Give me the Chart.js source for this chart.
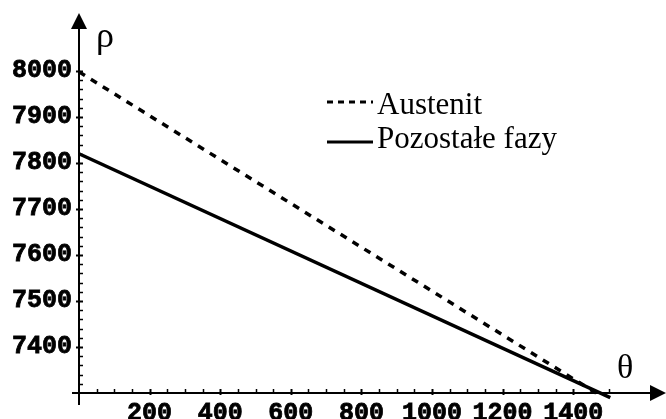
<!DOCTYPE html>
<html>
<head>
<meta charset="utf-8">
<script src="https://cdn.jsdelivr.net/npm/chart.js@4/dist/chart.umd.min.js"></script>
<style>
  html, body { margin: 0; padding: 0; background: #fff; }
  #wrap { width: 666px; height: 419px; position: relative; }
</style>
</head>
<body>
<div id="wrap"><canvas id="chart"></canvas></div>
<script>
// density (kg/m3) against temperature, end points of each straight line
const austenitTemp = [0, 1465];
const austenitRho = [7998, 7300];
const otherTemp = [0, 1505];
const otherRho = [7820, 7290];

const seriesNames = ['Austenit', 'Pozostałe fazy'];
const xTickLabels = [200, 400, 600, 800, 1000, 1200, 1400];
const yTickLabels = [7400, 7500, 7600, 7700, 7800, 7900, 8000];

const X_MIN = 0, X_MAX = 1660, X_LAST_TICK = 1500;
const Y_MIN = 7300, Y_MAX = 8126, Y_LAST_TICK = 8000;

const tickFont = { family: "'Liberation Mono', monospace", size: 25, weight: 'bold' };

function points(xs, ys) {
  return xs.map((x, i) => ({ x: x, y: ys[i] }));
}

// hand drawn axes with arrow heads, minor/major tick marks
const arrowAxes = {
  id: 'arrowAxes',
  beforeDatasetsDraw(chart) {
    const { ctx, scales } = chart;
    const xs = scales.x, ys = scales.y;
    const x0 = xs.getPixelForValue(0);
    const y0 = ys.getPixelForValue(Y_MIN);
    ctx.save();
    ctx.strokeStyle = '#000';
    ctx.fillStyle = '#000';
    ctx.lineWidth = 2;

    // axis lines
    ctx.beginPath();
    ctx.moveTo(x0 - 7, y0);
    ctx.lineTo(655, y0);
    ctx.moveTo(x0, y0 + 12);
    ctx.lineTo(x0, 26);
    ctx.stroke();

    // arrow heads
    ctx.beginPath();
    ctx.moveTo(x0, 13);
    ctx.lineTo(x0 - 8, 29);
    ctx.lineTo(x0 + 8, 29);
    ctx.closePath();
    ctx.fill();
    ctx.beginPath();
    ctx.moveTo(666, y0);
    ctx.lineTo(650, y0 - 8);
    ctx.lineTo(650, y0 + 8);
    ctx.closePath();
    ctx.fill();

    // tick marks
    ys.ticks.forEach(t => {
      const v = Math.round(t.value);
      if (v <= Y_MIN || v > Y_LAST_TICK) return;
      const py = Math.round(ys.getPixelForValue(v)) + 0.5;
      const major = v % 100 === 0;
      ctx.lineWidth = major ? 2 : 1.5;
      ctx.beginPath();
      ctx.moveTo(x0 - (major ? 3 : 0), py);
      ctx.lineTo(x0 + 4, py);
      ctx.stroke();
    });
    xs.ticks.forEach(t => {
      const v = Math.round(t.value);
      if (v <= X_MIN || v > X_LAST_TICK) return;
      const px = Math.round(xs.getPixelForValue(v)) + 0.5;
      const major = v % 200 === 0;
      ctx.lineWidth = major ? 2 : 1.5;
      ctx.beginPath();
      ctx.moveTo(px, y0 - 4);
      ctx.lineTo(px, y0 + (major ? 2 : 0));
      ctx.stroke();
    });
    ctx.restore();
  },
  afterDraw(chart) {
    const { ctx } = chart;
    ctx.save();
    ctx.fillStyle = '#000';
    ctx.textAlign = 'left';
    ctx.textBaseline = 'alphabetic';

    // axis symbols
    ctx.font = "36px 'Liberation Serif', serif";
    ctx.fillText('ρ', 96, 47);
    ctx.font = "34px 'Liberation Serif', serif";
    ctx.fillText('θ', 617, 378);

    // legend
    const lineY = [102, 142];
    const textY = [114, 148];
    ctx.font = "31px 'Liberation Serif', serif";
    chart.data.datasets.forEach((ds, i) => {
      ctx.strokeStyle = '#000';
      ctx.lineWidth = 3;
      ctx.setLineDash(ds.borderDash ? [6, 5] : []);
      ctx.beginPath();
      ctx.moveTo(327, lineY[i]);
      ctx.lineTo(373, lineY[i]);
      ctx.stroke();
      ctx.setLineDash([]);
      ctx.fillText(ds.label, 377, textY[i]);
    });
    ctx.restore();
  }
};

new Chart(document.getElementById('chart'), {
  type: 'line',
  data: {
    datasets: [{
      label: seriesNames[0],
      data: points(austenitTemp, austenitRho),
      borderColor: '#000',
      borderWidth: 3.5,
      borderDash: [7, 7],
      pointRadius: 0,
      clip: false
    }, {
      label: seriesNames[1],
      data: points(otherTemp, otherRho),
      borderColor: '#000',
      borderWidth: 3.5,
      pointRadius: 0,
      clip: false
    }]
  },
  options: {
    responsive: true,
    maintainAspectRatio: false,
    animation: false,
    layout: { padding: { top: 13, right: 1, left: 0, bottom: 0 } },
    plugins: {
      legend: { display: false },
      tooltip: { enabled: false }
    },
    scales: {
      x: {
        type: 'linear',
        min: X_MIN,
        max: X_MAX,
        grid: { display: false, drawTicks: false },
        border: { display: false },
        ticks: {
          stepSize: 50,
          autoSkip: false,
          maxRotation: 0,
          includeBounds: false,
          padding: 6,
          color: '#000',
          textStrokeColor: '#000',
          textStrokeWidth: 0.8,
          font: tickFont,
          callback: (v) => xTickLabels.includes(Math.round(v)) ? String(Math.round(v)) : ''
        },
        afterFit: (scale) => {
          scale.height = 26;
          scale.paddingLeft = 0;
          scale.paddingRight = 0;
        }
      },
      y: {
        type: 'linear',
        min: Y_MIN,
        max: Y_MAX,
        grid: { display: false, drawTicks: false },
        border: { display: false },
        ticks: {
          stepSize: 20,
          autoSkip: false,
          includeBounds: false,
          padding: 7,
          color: '#000',
          textStrokeColor: '#000',
          textStrokeWidth: 0.8,
          font: tickFont,
          callback: (v) => yTickLabels.includes(Math.round(v)) ? String(Math.round(v)) : ''
        },
        afterFit: (scale) => {
          scale.width = 79;
          scale.paddingTop = 0;
          scale.paddingBottom = 0;
        }
      }
    }
  },
  plugins: [arrowAxes]
});
</script>
</body>
</html>
